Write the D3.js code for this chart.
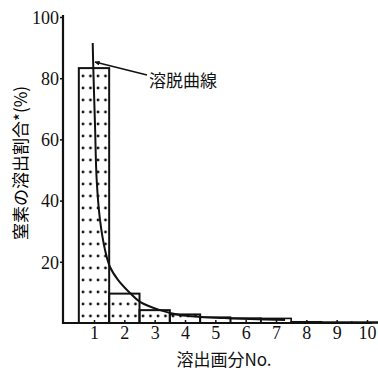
<!DOCTYPE html>
<html><head><meta charset="utf-8">
<script src="https://cdn.jsdelivr.net/npm/d3@7"></script>
<style>
html,body{margin:0;padding:0;background:#fff;}
svg{display:block;}
text{fill:#111;}
</style></head>
<body>
<svg id="chart" width="378" height="371"></svg>
<script>
// Data
const fractions = [1,2,3,4,5,6,7,8,9,10];
const fractionLabels = ["1","2","3","4","5","6","7","8","9","10"];
const releasePct = [83.3, 9.6, 4.2, 2.8, 1.9, 1.6, 1.5, 0.4, 0.3, 0.3];
const stippled = [true, true, true, true, false, false, false, false, false, false];
const curveX = [0.957, 0.977, 1.033, 1.089, 1.198, 1.363, 1.528, 1.791, 2.187, 2.517, 3.176, 3.836, 4.495, 5.3, 6.14, 7.3];
const curveY = [91.5, 83.3, 64.7, 46.7, 33.7, 23.9, 18.3, 14.1, 9.8, 6.9, 4.2, 2.6, 2.0, 1.6, 1.3, 1.0];
const yTicks = [20, 40, 60, 80, 100];
const yTitle = "窒素の溶出割合*(%)";
const xTitle = "溶出画分No.";
const annotation = "溶脱曲線";

const svg = d3.select("#chart");
const x = d3.scaleLinear().domain([1, 10]).range([94, 367]);
const y = d3.scaleLinear().domain([0, 100]).range([323, 17]);
const unit = x(2) - x(1);

const defs = svg.append("defs");
const pat = defs.append("pattern").attr("id", "dots")
  .attr("patternUnits", "userSpaceOnUse").attr("width", 7.5).attr("height", 12)
  .attr("x", 80).attr("y", 72);
pat.append("circle").attr("cx", 3).attr("cy", 4).attr("r", 1.4).attr("fill", "#111");
const mk = defs.append("marker").attr("id", "arr").attr("viewBox", "0 0 10 10")
  .attr("refX", 9).attr("refY", 5).attr("markerWidth", 7).attr("markerHeight", 5)
  .attr("orient", "auto").attr("markerUnits", "userSpaceOnUse");
mk.append("path").attr("d", "M0,0 L10,5 L0,10 Z").attr("fill", "#111");

// Bars
const bars = svg.append("g");
fractions.forEach((f, i) => {
  const x0 = x(f - 0.5), w = unit;
  bars.append("rect").attr("x", x0).attr("y", y(releasePct[i]))
    .attr("width", w).attr("height", y(0) - y(releasePct[i]))
    .attr("fill", stippled[i] ? "url(#dots)" : "none")
    .attr("stroke", "#111").attr("stroke-width", i < 4 ? 2 : 1.6);
});

// Curve
const pts = curveX.map((v, i) => [x(v), y(curveY[i])]);
svg.append("path").attr("d", d3.line().curve(d3.curveCatmullRom.alpha(0.5))(pts))
  .attr("fill", "none").attr("stroke", "#111").attr("stroke-width", 2);

// Axes
const yAxis = svg.append("g").attr("transform", `translate(63,0)`)
  .call(d3.axisLeft(y).tickValues(yTicks).tickSize(3).tickFormat(d3.format("d")));
const xAxis = svg.append("g").attr("transform", `translate(0,${y(0)})`)
  .call(d3.axisBottom(x).tickValues(fractions).tickSize(-3).tickFormat((d, i) => fractionLabels[i]));
[yAxis, xAxis].forEach(g => {
  g.select(".domain").remove();
  g.selectAll(".tick line").attr("stroke", "#111").attr("stroke-width", 1.5);
  g.selectAll(".tick text").attr("font-family", "'Liberation Serif', 'DejaVu Serif', serif")
    .attr("font-size", 18).attr("fill", "#111");
});
yAxis.selectAll(".tick text").attr("x", -4).attr("dy", "0.35em");
xAxis.selectAll(".tick text").attr("y", 3).attr("dy", "0.71em");
svg.append("line").attr("x1", 63).attr("x2", 63).attr("y1", 15).attr("y2", y(0) + 1)
  .attr("stroke", "#111").attr("stroke-width", 2.2);
svg.append("line").attr("x1", 62).attr("x2", 372).attr("y1", y(0)).attr("y2", y(0))
  .attr("stroke", "#111").attr("stroke-width", 2.2);

// Titles
svg.append("g").attr("transform", `translate(21,${163}) rotate(-90)`)
  .append("text").attr("text-anchor", "middle").attr("dy", "0.35em")
  .attr("font-family", "'Noto Sans CJK JP', sans-serif").attr("font-size", 17)
  .attr("fill", "#000").style("fill", "#000")
  .text(yTitle);
svg.append("text").attr("x", 224).attr("y", 366).attr("text-anchor", "middle")
  .attr("font-family", "'Noto Sans CJK JP', sans-serif").attr("font-size", 17)
  .text(xTitle);

// Annotation
svg.append("line").attr("x1", 147).attr("y1", 75).attr("x2", 95).attr("y2", 62)
  .attr("stroke", "#111").attr("stroke-width", 1.6).attr("marker-end", "url(#arr)");
svg.append("text").attr("x", 149).attr("y", 87)
  .attr("font-family", "'Noto Sans CJK JP', sans-serif").attr("font-size", 17)
  .text(annotation);
</script>
</body></html>
